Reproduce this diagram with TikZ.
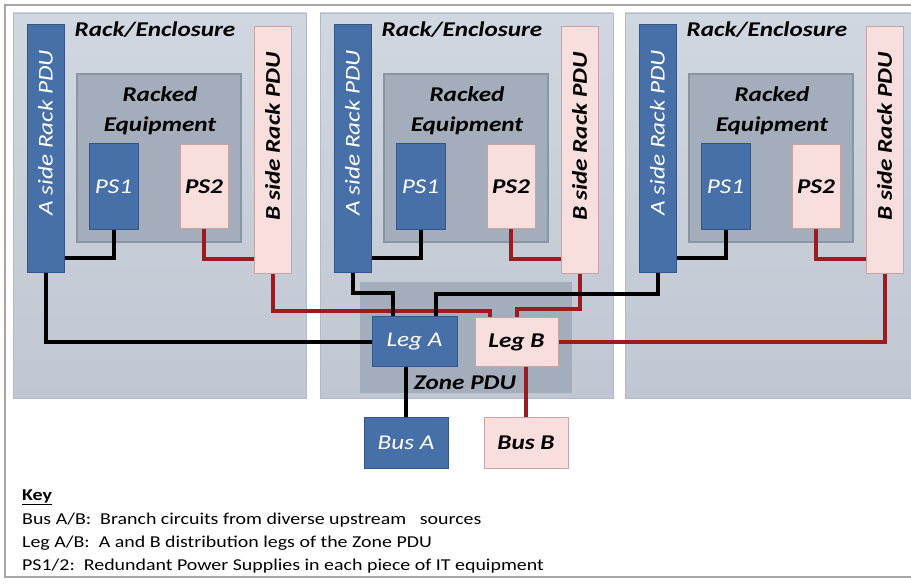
\documentclass[tikz,border=0pt]{standalone}
\usepackage{fontspec}
\setmainfont{Carlito}[FakeStretch=1.2]
\usepackage{tikz}
\usetikzlibrary{calc}
\definecolor{racktop}{RGB}{209,215,224}
\definecolor{rackbottom}{RGB}{192,199,210}
\definecolor{rackline}{RGB}{178,186,198}
\definecolor{equipgray}{RGB}{164,173,187}
\definecolor{equipline}{RGB}{138,148,163}
\definecolor{blueA}{RGB}{71,112,168}
\definecolor{blueline}{RGB}{52,86,135}
\definecolor{pinkB}{RGB}{249,222,222}
\definecolor{pinkline}{RGB}{200,165,165}
\definecolor{wirered}{RGB}{155,27,32}
\definecolor{framegray}{RGB}{166,166,166}
\tikzstyle{rack}=[rectangle, draw=rackline, top color=racktop, bottom color=rackbottom, inner sep=0pt, line width=.8pt]
\tikzstyle{equip}=[rectangle, draw=equipline, fill=equipgray, inner sep=0pt, line width=1.5pt]
\tikzstyle{zone}=[rectangle, fill=equipgray, inner sep=0pt]
\tikzstyle{side_a}=[rectangle, draw=blueline, fill=blueA, inner sep=0pt, line width=1pt, text=white, font=\itshape\fontsize{21}{25}\selectfont]
\tikzstyle{side_b}=[rectangle, draw=pinkline, fill=pinkB, inner sep=0pt, line width=1pt, text=black, font=\bfseries\itshape\fontsize{21}{25}\selectfont]
\tikzstyle{caption}=[inner sep=0pt, align=center, font=\bfseries\itshape\fontsize{21}{30}\selectfont]
\tikzstyle{wire_a}=[line width=4pt, black]
\tikzstyle{wire_b}=[line width=4pt, wirered]
\tikzstyle{keyline}=[anchor=base west, inner sep=0pt, font=\fontsize{16.6}{20}\selectfont]

\begin{document}
\begin{tikzpicture}[x=1pt, y=-1pt]
  \useasboundingbox (0,0) rectangle (911,585);
  \clip (0,0) rectangle (911,585);

  % outer frame
  \draw[framegray, line width=1.5pt] (915,5) -- (5,5) -- (5,577) -- (915,577);

  % draw the three racks, using a loop
  \foreach \i/\xo in {1/13, 2/320, 3/625} {
    \node[rack, minimum width=293pt, minimum height=385pt] (rack\i) at (\xo+146.5, 205.5) {};
    \node[caption] (title\i) at (\xo+142, 30) {Rack/Enclosure};
    \node[equip, minimum width=164pt, minimum height=168pt] (equip\i) at (\xo+146, 158) {};
    \node[caption] (equiplabel\i) at (\xo+147, 111) {Racked\\Equipment};
    \node[side_a, minimum width=49pt, minimum height=86pt] (psa\i) at (\xo+100.5, 187) {PS1};
    \node[side_b, minimum width=48pt, minimum height=84pt] (psb\i) at (\xo+191, 187) {PS2};
    % rack PDUs, text turned on its side
    \node[side_a, minimum width=37pt, minimum height=248pt] (pdua\i) at (\xo+32.5, 149) {};
    \node[side_a, draw=none, fill=none, rotate=90, anchor=east] (pdualabel\i) at ([yshift=-25pt]pdua\i.north) {A side Rack PDU};
    \node[side_b, minimum width=37pt, minimum height=247pt] (pdub\i) at (\xo+259.5, 150.5) {};
    \node[side_b, draw=none, fill=none, rotate=90, anchor=east] (pdublabel\i) at ([yshift=-25pt]pdub\i.north) {B side Rack PDU};
    % power supplies to rack PDUs
    \draw[wire_a] (psa\i.south) |- ([yshift=15pt]pdua\i.south east);
    \draw[wire_b] (psb\i.south) |- ([yshift=15pt]pdub\i.south west);
  }

  % zone PDU and buses
  \node[zone, minimum width=212pt, minimum height=111pt] (zone) at (466, 337.5) {};
  \node[caption] (zonelabel) at (465, 383) {Zone PDU};
  \node[side_a, minimum width=85pt, minimum height=50pt] (lega) at (414.5, 342) {Leg A};
  \node[side_b, minimum width=83pt, minimum height=49pt] (legb) at (516.5, 342.5) {Leg B};
  \node[side_a, minimum width=84pt, minimum height=50pt] (busa) at (406, 443) {Bus A};
  \node[side_b, minimum width=84pt, minimum height=50pt] (busb) at (526, 443) {Bus B};

  % B side feeds
  \draw[wire_b] (pdub1.south) -- ++(0,37) -| ([xshift=-27pt]legb.north);
  \draw[wire_b] (pdub2.south) -- ++(0,35) -| (legb.north);
  \draw[wire_b] (legb.east) -| (pdub3.south);
  \draw[wire_b] (busb.north) -- (busb.north |- legb.south);
  % A side feeds
  \draw[wire_a] (pdua1.south) |- (lega.west);
  \draw[wire_a] (pdua2.south) -- ++(0,20) -| ([xshift=-22pt]lega.north);
  \draw[wire_a] (pdua3.south) -- ++(0,21) -| ([xshift=21pt]lega.north);
  \draw[wire_a] (busa.north) -- (busa.north |- lega.south);

  % key
  \node[keyline] (key) at (22, 500) {\textbf{\underline{Key}}};
  \node[keyline] (keybus) at (22, 524) {Bus A/B:\ \ Branch circuits from diverse upstream\ \ \ sources};
  \node[keyline] (keyleg) at (22, 547) {Leg A/B:\ \ A and B distribution legs of the Zone PDU};
  \node[keyline] (keyps) at (22, 570) {PS1/2:\ \ Redundant Power Supplies in each piece of IT equipment};
\end{tikzpicture}
\end{document}
